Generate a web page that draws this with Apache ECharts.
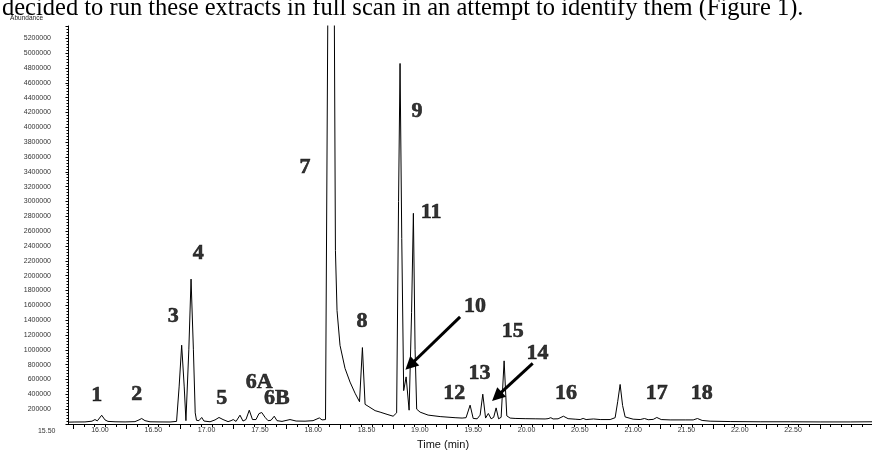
<!DOCTYPE html>
<html>
<head>
<meta charset="utf-8">
<script src="https://cdn.jsdelivr.net/npm/echarts@6/dist/echarts.min.js"></script>
<style>
  html, body { margin: 0; padding: 0; background: #fff; }
  #chart { width: 872px; height: 450px; }
</style>
</head>
<body>
<div id="chart"></div>
<script>
// ---------- data ----------
const times = [
  15.700, 15.765, 15.859, 15.925, 15.953, 15.975, 16.016, 16.047, 16.075, 16.141,
  16.235, 16.328, 16.366, 16.391, 16.422, 16.469, 16.563, 16.657, 16.718, 16.728,
  16.742, 16.766, 16.790, 16.806, 16.812, 16.833, 16.854, 16.876, 16.893, 16.905,
  16.928, 16.954, 16.975,
  17.032, 17.079, 17.116, 17.154, 17.201, 17.229, 17.250, 17.276, 17.313, 17.341,
  17.369, 17.400, 17.430, 17.463, 17.491, 17.517, 17.548, 17.576, 17.604, 17.634,
  17.660, 17.707, 17.782, 17.839, 17.923, 17.998, 18.057, 18.082, 18.115, 18.136,
  18.167, 18.198, 18.208, 18.223, 18.251, 18.298, 18.345, 18.392, 18.434, 18.461,
  18.486, 18.514, 18.580, 18.627, 18.692, 18.749, 18.782, 18.800, 18.814, 18.830,
  18.848, 18.871, 18.899, 18.922, 18.939, 18.955, 18.970, 19.002, 19.077, 19.190,
  19.330, 19.396, 19.433, 19.471, 19.500, 19.537, 19.565, 19.590, 19.616, 19.642,
  19.668, 19.692, 19.715, 19.738, 19.762, 19.790, 19.815, 19.846, 19.893, 19.987,
  20.081, 20.174, 20.202, 20.228, 20.249, 20.296, 20.346, 20.390, 20.456, 20.503,
  20.531, 20.559, 20.628, 20.691, 20.784, 20.831, 20.855, 20.878, 20.901, 20.925,
  21.000, 21.066, 21.106, 21.141, 21.188, 21.222, 21.263, 21.347, 21.488, 21.563,
  21.603, 21.647, 21.722, 21.910, 22.191, 22.473, 22.754, 23.036, 23.240
];
const abundance = [
  25000, 27000, 28000, 38000, 60000, 42000, 118000, 55000, 35000, 30000,
  28000, 32000, 55000, 74000, 45000, 30000, 28000, 27000, 35000, 60000,
  500000, 1062000, 500000, 45000, 60000, 1000000, 1953000, 1000000, 150000, 50000,
  45000, 88000, 40000,
  30000, 55000, 88000, 60000, 32000, 45000, 60000, 35000, 119000, 40000,
  60000, 186000, 60000, 60000, 140000, 155000, 90000, 45000, 50000, 105000,
  45000, 35000, 60000, 40000, 38000, 45000, 82000, 55000, 60000, 5400000,
  8500000, 5400000, 2340000, 1530000, 1060000, 750000, 565000, 415000, 300000, 1030000,
  265000, 240000, 180000, 160000, 130000, 105000, 150000, 3000000, 4860000, 2500000,
  450000, 635000, 186000, 1500000, 2840000, 1000000, 200000, 160000, 120000, 100000,
  85000, 80000, 85000, 254000, 75000, 70000, 120000, 402000, 80000, 142000,
  70000, 90000, 217000, 70000, 90000, 851000, 110000, 80000, 75000, 72000,
  70000, 68000, 72000, 85000, 68000, 70000, 105000, 72000, 65000, 60000,
  75000, 60000, 68000, 60000, 60000, 85000, 300000, 533000, 250000, 95000,
  65000, 60000, 74000, 58000, 62000, 88000, 60000, 55000, 55000, 55000,
  74000, 48000, 38000, 33000, 30000, 30000, 28000, 28000, 30000
];

// peak numbers and where their text sits (time, abundance)
const peakNames = ['1', '2', '3', '4', '5', '6A', '6B', '7', '8', '9', '10', '11', '12', '13', '14', '15', '16', '17', '18'];
const labelTimes = [15.969, 16.344, 16.688, 16.922, 17.142, 17.494, 17.658, 17.923, 18.458, 18.974,
  19.518, 19.105, 19.322, 19.558, 20.102, 19.870, 20.371, 21.222, 21.644];
const labelHeights = [388000, 402000, 1454000, 2299000, 344000, 560000, 344000, 3463000, 1386000, 4218000,
  1589000, 2852000, 415000, 689000, 959000, 1251000, 411000, 419000, 419000];

// arrows pointing at peaks 10 and 14 (tail -> head)
const arrowFrom = [[19.377, 1444000], [20.058, 816000]];
const arrowTo = [[18.908, 792000], [19.722, 371000]];

// axis ticks
const xTickLabels = [16.0, 16.5, 17.0, 17.5, 18.0, 18.5, 19.0, 19.5, 20.0, 20.5, 21.0, 21.5, 22.0, 22.5];
const xMajorTicks = [15.75, 16.25, 16.75, 17.25, 17.75, 18.25, 18.75, 19.25, 19.75, 20.25, 20.75, 21.25, 21.75, 22.25, 22.75];
const xMinorTicks = [];
for (let k = 1; 15.75 + k * 0.1 < 23.24; k++) {
  if (k % 5 !== 0) xMinorTicks.push(+(15.75 + k * 0.1).toFixed(2));
}

const X_MIN = 15.70;
const X_MAX = 23.24;
const Y_MAX = 5365000;

const AXIS_FONT = '"Liberation Sans", Arial, sans-serif';
const PEAK_FONT = '"Liberation Serif", "Times New Roman", serif';

const chart = echarts.init(document.getElementById('chart'), null, { renderer: 'canvas' });

const option = {
  backgroundColor: '#fff',
  animation: false,
  grid: { left: 68, right: 0, top: 26, bottom: 26, containLabel: false, outerBoundsMode: 'none' },
  xAxis: [
    {
      type: 'value',
      min: X_MIN,
      max: X_MAX,
      name: 'Time (min)',
      nameLocation: 'middle',
      nameGap: 15,
      nameTextStyle: { fontFamily: AXIS_FONT, fontSize: 11, color: '#111', padding: [0, 54, 0, 0] },
      axisLine: { show: true, onZero: false, lineStyle: { color: '#000', width: 1 } },
      axisTick: { show: true, customValues: xMajorTicks, length: 5, lineStyle: { color: '#000' } },
      axisLabel: {
        customValues: xTickLabels,
        formatter: v => v.toFixed(2),
        fontFamily: AXIS_FONT, fontSize: 7, color: '#333', margin: 3
      },
      splitLine: { show: false }
    },
    {
      type: 'value',
      min: X_MIN,
      max: X_MAX,
      position: 'bottom',
      axisLine: { show: false },
      axisTick: { show: true, customValues: xMinorTicks, length: 3, lineStyle: { color: '#000' } },
      axisLabel: { show: false },
      splitLine: { show: false }
    }
  ],
  yAxis: {
    type: 'value',
    min: 0,
    max: Y_MAX,
    interval: 200000,
    name: 'Abundance',
    nameLocation: 'end',
    nameGap: 4,
    nameTextStyle: { fontFamily: AXIS_FONT, fontSize: 6.5, color: '#222', align: 'right', padding: [0, 25, 0, 0] },
    axisLine: { show: true, lineStyle: { color: '#000', width: 1 } },
    axisTick: { show: true, length: 2.5, lineStyle: { color: '#000' } },
    minorTick: { show: true, splitNumber: 5, length: 1.5, lineStyle: { color: '#000' } },
    axisLabel: {
      showMinLabel: false,
      showMaxLabel: false,
      formatter: v => (v === 0 ? '' : String(v)),
      fontFamily: AXIS_FONT, fontSize: 7, color: '#333', margin: 17
    },
    splitLine: { show: false },
    minorSplitLine: { show: false }
  },
  graphic: [
    {
      type: 'text',
      silent: true,
      style: {
        text: 'decided to run these extracts in full scan in an attempt to identify them (Figure 1).',
        x: 2, y: 8.5,
        font: '24.5px "Liberation Serif", "Times New Roman", serif',
        fill: '#000',
        verticalAlign: 'middle'
      }
    },
    {
      type: 'text',
      silent: true,
      style: {
        text: '15.50',
        x: 46.7, y: 431.3,
        font: '7px ' + AXIS_FONT,
        fill: '#333',
        align: 'center',
        verticalAlign: 'middle'
      }
    }
  ],
  series: [
    {
      type: 'line',
      xAxisIndex: 0,
      data: times.map((t, i) => [t, abundance[i]]),
      showSymbol: false,
      symbol: 'none',
      clip: true,
      lineStyle: { color: '#000', width: 1 },
      markLine: {
        silent: true,
        animation: false,
        symbol: ['none', 'triangle'],
        symbolSize: 13,
        label: { show: false },
        lineStyle: { color: '#000', width: 3, type: 'solid' },
        itemStyle: { color: '#000' },
        data: arrowFrom.map((p, i) => [{ coord: p }, { coord: arrowTo[i] }])
      }
    },
    {
      type: 'scatter',
      xAxisIndex: 0,
      symbolSize: 0,
      silent: true,
      data: peakNames.map((n, i) => [labelTimes[i], labelHeights[i], n]),
      label: {
        show: true,
        position: 'inside',
        formatter: p => p.data[2],
        fontFamily: PEAK_FONT,
        fontSize: 22,
        fontWeight: 'bold',
        color: '#000',
        textBorderColor: '#000',
        textBorderWidth: 0.6
      }
    }
  ]
};

chart.setOption(option);
</script>
</body>
</html>
